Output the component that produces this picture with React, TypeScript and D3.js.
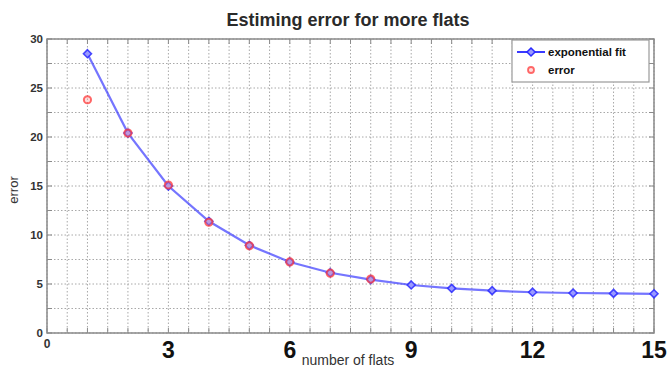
import { scaleLinear, line, range } from "d3";

const flats = [1, 2, 3, 4, 5, 6, 7, 8, 9, 10, 11, 12, 13, 14, 15];
const fitValues = [28.5, 20.4, 15.0, 11.4, 8.95, 7.25, 6.15, 5.45, 4.9, 4.56, 4.32, 4.16, 4.08, 4.04, 4.0];
const errorFlats = [1, 2, 3, 4, 5, 6, 7, 8];
const errorValues = [23.8, 20.4, 15.1, 11.3, 8.9, 7.25, 6.1, 5.5];
const xLabels = [0, 3, 6, 9, 12, 15];
const yLabels = [0, 5, 10, 15, 20, 25, 30];

const W = 667;
const H = 370;
const margin = { top: 39, right: 13, bottom: 37, left: 47 };

// small matlab-like diamond marker
const diamond = "M0,-4L4,0L0,4L-4,0Z";

export default function App() {
  const innerW = W - margin.left - margin.right;
  const innerH = H - margin.top - margin.bottom;
  const x = scaleLinear().domain([0, 15]).range([0, innerW]);
  const y = scaleLinear().domain([0, 30]).range([innerH, 0]);

  const xGrid = range(0, 15.01, 0.5);
  const yGrid = range(0, 30.01, 2.5);

  const fitLine = line<number>()
    .x((_, i) => x(flats[i]))
    .y((d) => y(d))(fitValues);

  const frame = "#8a8a8a";
  const font = "Liberation Sans, Arial, sans-serif";

  return (
    <svg
      width={W}
      height={H}
      style={{ position: "absolute", left: 0, top: 0, background: "#fff" }}
      fontFamily={font}
    >
      <text x={348} y={26} textAnchor="middle" fontSize={18} fontWeight="bold" fill="#2a2a2a">
        Estiming error for more flats
      </text>

      <g transform={`translate(${margin.left},${margin.top})`}>
        {/* grid */}
        {xGrid.map((v) => (
          <line key={`gx${v}`} x1={x(v)} x2={x(v)} y1={0} y2={innerH} stroke="#a8a8a8" strokeWidth={1} strokeDasharray="1.5,2" />
        ))}
        {yGrid.map((v) => (
          <line key={`gy${v}`} x1={0} x2={innerW} y1={y(v)} y2={y(v)} stroke="#a8a8a8" strokeWidth={1} strokeDasharray="1.5,2" />
        ))}

        {/* inward ticks */}
        {xGrid.map((v) => (
          <g key={`tx${v}`}>
            <line x1={x(v)} x2={x(v)} y1={innerH} y2={innerH - 5} stroke={frame} />
            <line x1={x(v)} x2={x(v)} y1={0} y2={5} stroke={frame} />
          </g>
        ))}
        {yGrid.map((v) => (
          <g key={`ty${v}`}>
            <line x1={0} x2={5} y1={y(v)} y2={y(v)} stroke={frame} />
            <line x1={innerW} x2={innerW - 5} y1={y(v)} y2={y(v)} stroke={frame} />
          </g>
        ))}

        <rect x={0} y={0} width={innerW} height={innerH} fill="none" stroke={frame} strokeWidth={1.5} />

        {/* exponential fit */}
        <path d={fitLine ?? ""} fill="none" stroke="#3a3aff" strokeOpacity={0.7} strokeWidth={2.2} />
        {fitValues.map((v, i) => (
          <path
            key={`d${i}`}
            d={diamond}
            transform={`translate(${x(flats[i])},${y(v)})`}
            fill="#9a9aff"
            stroke="#2a2aff"
            strokeOpacity={0.85}
            strokeWidth={1.6}
          />
        ))}

        {/* error points */}
        {errorValues.map((v, i) => (
          <circle
            key={`e${i}`}
            cx={x(errorFlats[i])}
            cy={y(v)}
            r={3.6}
            fill="#ff9a9a"
            fillOpacity={0.35}
            stroke="#ff3b3b"
            strokeOpacity={0.75}
            strokeWidth={2}
          />
        ))}

        {/* y labels */}
        {yLabels.map((v) => (
          <text key={`yl${v}`} x={-4} y={y(v)} dy="0.35em" textAnchor="end" fontSize={11.5} fontWeight="bold" fill="#333">
            {v}
          </text>
        ))}

        {/* x labels */}
        {xLabels.map((v) =>
          v === 0 ? (
            <text key={`xl${v}`} x={x(v)} y={innerH + 15} textAnchor="middle" fontSize={12} fontWeight="bold" fill="#333">
              {v}
            </text>
          ) : (
            <text key={`xl${v}`} x={x(v)} y={innerH + 25} textAnchor="middle" fontSize={23} fontWeight="bold" fill="#111">
              {v}
            </text>
          )
        )}

        {/* legend */}
        <g transform={`translate(${innerW - 142},1)`}>
          <rect x={0} y={0} width={137} height={42} fill="#fff" stroke="#999" strokeWidth={1.2} />
          <line x1={5} x2={33} y1={12} y2={12} stroke="#3a3aff" strokeWidth={2} />
          <path d={diamond} transform="translate(19,12)" fill="#9a9aff" stroke="#2a2aff" strokeWidth={1.5} />
          <text x={36} y={12} dy="0.35em" fontSize={11.5} fontWeight="bold" fill="#111">
            exponential fit
          </text>
          <circle cx={19} cy={30} r={3} fill="#ff9a9a" fillOpacity={0.35} stroke="#ff3b3b" strokeOpacity={0.75} strokeWidth={1.8} />
          <text x={36} y={30} dy="0.35em" fontSize={11.5} fontWeight="bold" fill="#111">
            error
          </text>
        </g>
      </g>

      <text x={348} y={365} textAnchor="middle" fontSize={14} fill="#333">
        number of flats
      </text>
      <text transform="translate(18,190) rotate(-90)" textAnchor="middle" fontSize={13} fill="#333">
        error
      </text>
    </svg>
  );
}
